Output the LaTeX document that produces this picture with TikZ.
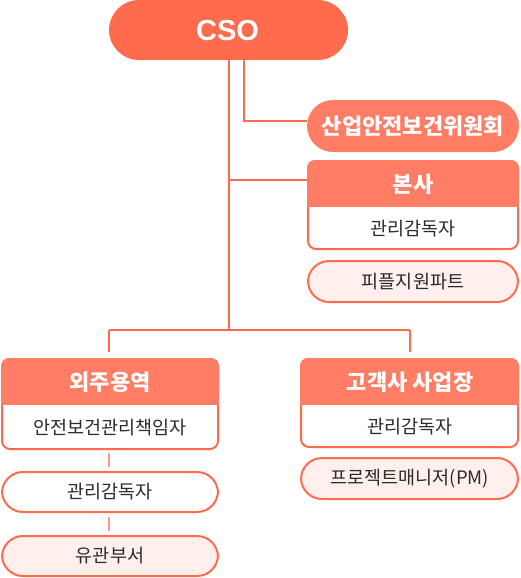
\documentclass[tikz,border=0pt]{standalone}
\usepackage{fontspec}
\setmainfont{Noto Sans CJK KR}
\newfontfamily\latinbold{Liberation Sans}[BoldFont={Liberation Sans Bold}]
\definecolor{cso}{HTML}{FF6B4D}
\definecolor{hdr}{HTML}{FF7D64}
\definecolor{bord}{HTML}{FF6B4D}
\definecolor{pink}{HTML}{FFF0ED}
\definecolor{txt}{HTML}{2B2B2B}
\definecolor{seg}{HTML}{FF9A88}
\begin{document}
\begin{tikzpicture}[x=1pt,y=-1pt,
  conn/.style={draw=cso,line width=2pt},
  softconn/.style={draw=seg,line width=2pt},
  headtext/.style={text=white,font=\bfseries\fontsize{22}{24}\selectfont},
  bodytext/.style={text=txt,font=\fontsize{18.5}{21}\selectfont},
  pillbox/.style={rounded corners=21pt,line width=2pt,draw=bord},
]
\useasboundingbox (0,0) rectangle (520,578);

% connectors (under boxes)
\coordinate (v1) at (228.5,60);
\coordinate (v2) at (244,60);
\coordinate (j1) at (228.5,180);
\coordinate (j2) at (228.5,330);
\coordinate (jl) at (109,330);
\coordinate (jr) at (410,330);
\coordinate (committeeIn) at (307,121);
\coordinate (bonsaIn) at (307,180);
\draw[conn] (v2) |- (committeeIn);
\draw[conn] (v1) -- (j2);
\draw[conn] (j1) -- (bonsaIn);
\draw[conn] (jl) -- (jr);
\draw[conn] (jl) -- (109,352);
\draw[conn] (jr) -- (410,352);

% CSO
\fill[cso,rounded corners=30pt] (109,0) rectangle (348,60);
\node[text=white,font=\latinbold\bfseries\fontsize{29}{32}\selectfont] (cso) at (227.5,30.5) {CSO};

% committee
\fill[hdr,rounded corners=26pt] (307,100) rectangle (519,152);
\node[headtext] (committee) at (413,126) {산업안전보건위원회};

% 본사
\draw[bord,line width=2pt,fill=white,rounded corners=8pt] (308,161) rectangle (518,249);
\fill[hdr,rounded corners=8pt] (307,160) rectangle (519,200);
\fill[hdr] (307,190) rectangle (519,207);
\node[headtext] (bonsa) at (413,184) {본사};
\node[bodytext] (bonsaBody) at (413,229) {관리감독자};

% 피플지원파트
\draw[pillbox,fill=pink] (308,261) rectangle (518,302);
\node[bodytext] (people) at (413,281.5) {피플지원파트};

% 외주용역
\draw[bord,line width=2pt,fill=white,rounded corners=8pt] (2,359) rectangle (218,449);
\fill[hdr,rounded corners=8pt] (1,358) rectangle (219,398);
\fill[hdr] (1,390) rectangle (219,405);
\node[headtext] (outsrc) at (110,382) {외주용역};
\node[bodytext] (outsrcBody) at (110,428) {안전보건관리책임자};

\draw[softconn] (109,453) -- (109,467);
\draw[pillbox,fill=white] (2,472) rectangle (218,512);
\node[bodytext] (mgr) at (110,492) {관리감독자};

\draw[softconn] (109,517) -- (109,531);
\draw[pillbox,fill=pink] (2,536) rectangle (218,576);
\node[bodytext] (related) at (110,556) {유관부서};

% 고객사 사업장
\draw[bord,line width=2pt,fill=white,rounded corners=8pt] (301,359) rectangle (518,447);
\fill[hdr,rounded corners=8pt] (300,358) rectangle (519,398);
\fill[hdr] (300,390) rectangle (519,405);
\node[headtext] (client) at (410,382) {고객사 사업장};
\node[bodytext] (clientBody) at (410,427) {관리감독자};

\draw[pillbox,fill=pink] (301,458) rectangle (518,499);
\node[bodytext] (pm) at (410,478.5) {프로젝트매니저(PM)};
\end{tikzpicture}
\end{document}
